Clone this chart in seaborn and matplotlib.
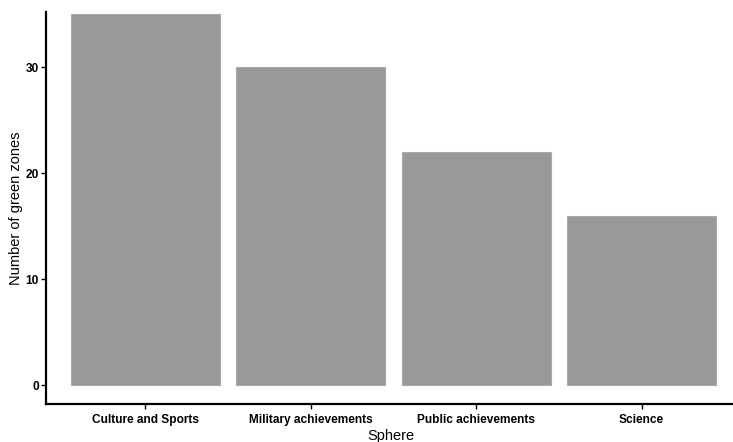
import pandas as pd
import matplotlib.pyplot as plt
import seaborn as sns

# Data
spheres = ["Culture and Sports", "Military achievements", "Public achievements", "Science"]
green_zones = [35, 30, 22, 16]

df = pd.DataFrame({"Sphere": spheres, "Count": green_zones})

sns.set_style("ticks")
plt.rcParams["font.family"] = ["Liberation Sans", "DejaVu Sans"]
plt.rcParams["text.color"] = "black"
plt.rcParams["axes.labelcolor"] = "black"
plt.rcParams["xtick.color"] = "black"
plt.rcParams["ytick.color"] = "black"

fig = plt.figure(figsize=(7.33, 4.42), dpi=100)
ax = fig.add_axes([0.0628, 0.086, 0.94, 0.887])

sns.barplot(data=df, x="Sphere", y="Count", color="#999999", width=0.9,
            edgecolor="#aaaaaa", linewidth=0.8, saturation=1, ax=ax)

ax.set_xlim(-0.6, 3.565)
ax.set_ylim(-1.75, 35.2)
ax.set_yticks([0, 10, 20, 30])

sns.despine(ax=ax)
for side in ["left", "bottom"]:
    ax.spines[side].set_linewidth(1.6)
    ax.spines[side].set_color("black")

ax.tick_params(axis="both", direction="out", length=3.6, width=1, color="black",
               labelsize=8.6)
ax.tick_params(axis="y", pad=1.5)
ax.tick_params(axis="x", pad=3.5)
for lab in ax.get_xticklabels() + ax.get_yticklabels():
    lab.set_fontweight("bold")

ax.set_xlabel("Sphere", fontsize=10.5, labelpad=2)
ax.set_ylabel("Number of green zones", fontsize=10.5, labelpad=2)

fig.savefig("out.png", dpi=100)
